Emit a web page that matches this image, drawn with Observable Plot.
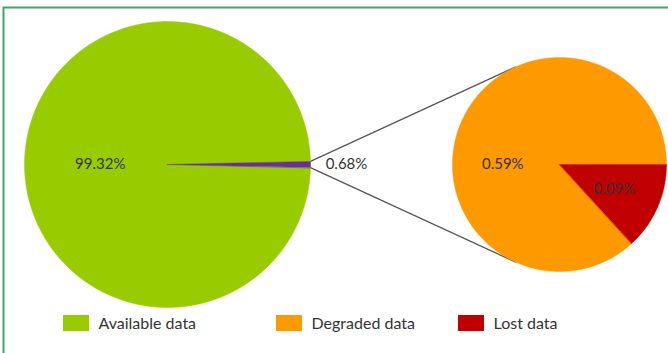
<!DOCTYPE html>
<html>
<head>
<meta charset="utf-8">
<script src="https://cdn.jsdelivr.net/npm/d3@7"></script>
<script src="https://cdn.jsdelivr.net/npm/@observablehq/plot@0.6"></script>
<style>
  html, body { margin: 0; padding: 0; background: #fff; }
</style>
</head>
<body>
<div id="chart"></div>
<script>
// Data: share of records by availability status (percent)
const overviewCategories = ["Available data", "Unavailable data"];
const overviewValues = [99.32, 0.68];
const detailCategories = ["Degraded data", "Lost data"];
const detailValues = [0.59, 0.09];
const legendCategories = ["Available data", "Degraded data", "Lost data"];

// Styling
const palette = {
  "Available data": "#99cc00",
  "Unavailable data": "#6a2f9a",
  "Degraded data": "#ff9900",
  "Lost data": "#c00000"
};
const textColor = "#333333";
const font = "Lato, 'Open Sans', sans-serif";

// Layout
const W = 668, H = 353;
const bigPie = {cx: 167, cy: 164, r: 143};
const smallPie = {cx: 559, cy: 164, r: 107};
const legendX = [63, 276, 458];
const legendY = 315, swatchW = 26, swatchH = 16;

const TAU = 2 * Math.PI;
const pt = (p, a, rad) => [p.cx + rad * Math.sin(a), p.cy - rad * Math.cos(a)];

// Big pie: the unavailable slice is centred on the 3 o'clock direction
const unavailShare = overviewValues[1] / d3.sum(overviewValues);
const bigStart = Math.PI / 2 + unavailShare * Math.PI;
const bigArcs = d3.pie().sort(null).startAngle(bigStart).endAngle(bigStart + TAU)(overviewValues)
  .map((a, i) => ({...a, name: overviewCategories[i], pie: bigPie}));

// Small pie: the lost slice starts at 3 o'clock and runs clockwise
const detailTotal = d3.sum(detailValues);
const smallStart = Math.PI / 2 - (detailValues[0] / detailTotal) * TAU;
const smallArcs = d3.pie().sort(null).startAngle(smallStart).endAngle(smallStart + TAU)(detailValues)
  .map((a, i) => ({...a, name: detailCategories[i], pie: smallPie}));

// Turn each arc into a closed polygon (centre + arc outline)
function polygon(arc) {
  const rows = [];
  const {pie} = arc;
  rows.push({name: arc.name, x: pie.cx, y: pie.cy});
  const n = Math.max(2, Math.ceil((arc.endAngle - arc.startAngle) / 0.005));
  for (let k = 0; k <= n; k++) {
    const a = arc.startAngle + (arc.endAngle - arc.startAngle) * k / n;
    const [x, y] = pt(pie, a, pie.r);
    rows.push({name: arc.name, x, y});
  }
  return rows;
}
const sliceRows = [...bigArcs, ...smallArcs].flatMap(polygon);

// Percentage labels
const fmt = v => d3.format(".2f")(v) + "%";
const mid = a => (a.startAngle + a.endAngle) / 2;
const labels = [
  {arc: bigArcs[0], angle: mid(bigArcs[0]), rad: bigPie.r * 0.47},
  {arc: bigArcs[1], angle: mid(bigArcs[1]), rad: bigPie.r + 36},
  {arc: smallArcs[0], angle: 3 * Math.PI / 2, rad: smallPie.r * 0.53},
  {arc: smallArcs[1], angle: mid(smallArcs[1]), rad: smallPie.r * 0.56}
].map(d => {
  const [x, y] = pt(d.arc.pie, d.angle, d.rad);
  return {x, y, text: fmt(d.arc.value)};
});

// Connector lines from the unavailable slice tip to the detail pie
const tipA = bigArcs[1];
const connectors = [
  {from: tipA.startAngle, to: -0.42},
  {from: tipA.endAngle, to: Math.PI + 0.42}
].map(d => {
  const [x1, y1] = pt(bigPie, d.from, bigPie.r);
  const [x2, y2] = pt(smallPie, d.to, smallPie.r);
  return {x1, y1, x2, y2};
});

// Legend rows
const legendRows = legendCategories.map((name, i) => ({
  name,
  x1: legendX[i], x2: legendX[i] + swatchW,
  y1: legendY, y2: legendY + swatchH,
  tx: legendX[i] + swatchW + 9, ty: legendY + swatchH / 2
}));

const chart = Plot.plot({
  width: W,
  height: H,
  margin: 0,
  x: {domain: [0, W], range: [0, W], axis: null},
  y: {domain: [0, H], range: [0, H], axis: null},
  style: {background: "#fff", fontFamily: font},
  marks: [
    // frame lines
    Plot.ruleY([7], {x1: 3, x2: W, stroke: "#3aa86a", strokeWidth: 2}),
    Plot.ruleX([3], {y1: 7, y2: H, stroke: "#3aa86a", strokeWidth: 2}),
    Plot.link(connectors, {x1: "x1", y1: "y1", x2: "x2", y2: "y2", stroke: "#555555", strokeWidth: 1.3}),
    Plot.line(sliceRows, {
      x: "x", y: "y", z: "name",
      fill: d => palette[d.name],
      stroke: d => palette[d.name],
      strokeWidth: 0.5,
      curve: "linear-closed"
    }),
    Plot.text(labels, {x: "x", y: "y", text: "text", fill: textColor, fontSize: 15, fontFamily: font}),
    Plot.rect(legendRows, {x1: "x1", x2: "x2", y1: "y1", y2: "y2", fill: d => palette[d.name]}),
    Plot.text(legendRows, {x: "tx", y: "ty", text: "name", textAnchor: "start", fill: textColor, fontSize: 16, fontFamily: font})
  ]
});
document.getElementById("chart").append(chart);
</script>
</body>
</html>
